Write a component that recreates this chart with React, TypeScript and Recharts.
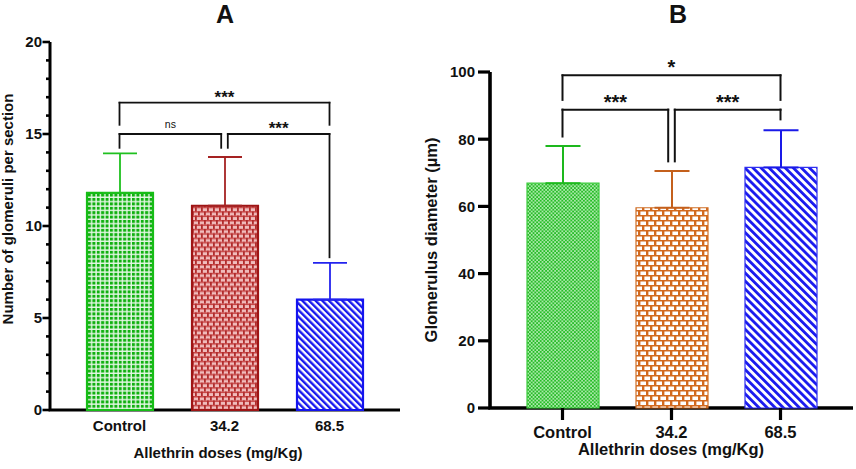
import React from "react";
import { BarChart, Bar, XAxis, YAxis, ErrorBar, ReferenceLine, ReferenceArea } from "recharts";

const doses = ["Control", "34.2", "68.5"];

// panel A: number of glomeruli per section
const glomeruliMean = [11.8, 11.1, 6.0];
const glomeruliSd = [2.15, 2.65, 2.0];
const glomeruliTicks = [0, 1, 2, 3, 4, 5, 6, 7, 8, 9, 10, 11, 12, 13, 14, 15, 16, 17, 18, 19, 20];
const glomeruliLabelled = [0, 5, 10, 15, 20];
const glomeruliBrackets = [
  { from: "Control", to: "68.5", level: 16.7, fromDrop: 15.5, toDrop: 15.5, mark: "***" },
  { from: "Control", to: "34.2", level: 15.0, fromDrop: 14.25, toDrop: 14.25, mark: "ns" },
  { from: "34.2", to: "68.5", level: 15.0, fromDrop: 14.25, toDrop: 8.3, mark: "***" },
];

// panel B: glomerulus diameter
const diameterMean = [66.9, 59.6, 71.6];
const diameterSd = [11.1, 10.9, 11.1];
const diameterTicks = [0, 20, 40, 60, 80, 100];
const diameterBrackets = [
  { from: "Control", to: "68.5", level: 99, fromDrop: 91.7, toDrop: 91.7, mark: "*" },
  { from: "Control", to: "34.2", level: 88.8, fromDrop: 80.8, toDrop: 73.4, mark: "***" },
  { from: "34.2", to: "68.5", level: 88.8, fromDrop: 73.4, toDrop: 85.9, mark: "***" },
];

const FONT = "'Liberation Sans', Arial, sans-serif";
const INK = "#000";
const padA = { left: 17, right: 18 };
const padB = { left: 18, right: 18 };

const toRows = (mean: number[], sd: number[]) =>
  doses.map((dose, i) => ({ dose, [`v${i}`]: mean[i], [`e${i}`]: [0, sd[i]] }));

const rowsA = toRows(glomeruliMean, glomeruliSd);
const rowsB = toRows(diameterMean, diameterSd);

const looksA = [
  { fill: "url(#aGreen)", stroke: "#16bd16", err: "#1fc01f" },
  { fill: "url(#aRed)", stroke: "#9e1414", err: "#a52222" },
  { fill: "url(#aBlue)", stroke: "#1414ee", err: "#2323ee" },
];
const looksB = [
  { fill: "url(#bGreen)", stroke: "#3ccc3c", err: "#1db81d" },
  { fill: "url(#bOrange)", stroke: "#d07028", err: "#c4601c" },
  { fill: "url(#bBlue)", stroke: "#3030f0", err: "#1a1ae8" },
];

const ok = (...v: any[]) => v.every((n) => typeof n === "number" && !isNaN(n));

function Seg(props: any) {
  const { x1, y1, x2, y2, dx1 = 0, dx2 = 0, mark, big, lw } = props;
  if (!ok(x1, y1, x2, y2)) return null;
  const ns = mark === "ns";
  return (
    <g>
      <line x1={x1 + dx1} y1={y1} x2={x2 + dx2} y2={y2} stroke="#111" strokeWidth={lw} strokeLinecap="square" />
      {mark && (
        <text
          x={(x1 + dx1 + x2 + dx2) / 2}
          y={ns ? y1 - 6 : y1 - (big ? 1 : 0)}
          textAnchor="middle"
          fontFamily={FONT}
          fontWeight={ns ? "normal" : "bold"}
          fontSize={ns ? 10.5 : big ? 20 : 17}
          fill="#111"
        >
          {mark}
        </text>
      )}
    </g>
  );
}

function brackets(list: typeof glomeruliBrackets, big: boolean, lw: number) {
  const gap = 3.3;
  return list.flatMap((b, k) => {
    const sFrom = list.some((o, j) => j !== k && o.level === b.level && o.to === b.from) ? gap : 0;
    const sTo = list.some((o, j) => j !== k && o.level === b.level && o.from === b.to) ? -gap : 0;
    return [
      <ReferenceLine
        key={`h${k}`}
        ifOverflow="visible"
        segment={[{ x: b.from, y: b.level }, { x: b.to, y: b.level }]}
        shape={(p: any) => <Seg {...p} dx1={sFrom} dx2={sTo} mark={b.mark} big={big} lw={lw} />}
      />,
      <ReferenceLine
        key={`l${k}`}
        ifOverflow="visible"
        segment={[{ x: b.from, y: b.level }, { x: b.from, y: b.fromDrop }]}
        shape={(p: any) => <Seg {...p} dx1={sFrom} dx2={sFrom} lw={lw} />}
      />,
      <ReferenceLine
        key={`r${k}`}
        ifOverflow="visible"
        segment={[{ x: b.to, y: b.level }, { x: b.to, y: b.toDrop }]}
        shape={(p: any) => <Seg {...p} dx1={sTo} dx2={sTo} lw={lw} />}
      />,
    ];
  });
}

// axis frame (left + bottom lines); the area spans the padded x range, so widen it back by the padding
function frame(top: number, lw: number, pad: { left: number; right: number }) {
  return (
    <ReferenceArea
      y1={0}
      y2={top}
      ifOverflow="visible"
      shape={(p: any) => {
        if (!ok(p.x, p.y, p.width, p.height)) return null;
        const left = p.x - pad.left;
        const right = p.x + p.width + pad.right;
        return (
          <path
            d={`M${left},${p.y} V${p.y + p.height} H${right}`}
            fill="none"
            stroke={INK}
            strokeWidth={lw}
            strokeLinejoin="miter"
          />
        );
      }}
    />
  );
}

// y ticks pointing left from the axis
function yTickMarks(ticks: number[], len: (t: number) => number, lw: number) {
  return ticks.map((t) => (
    <ReferenceLine
      key={`yt${t}`}
      y={t}
      ifOverflow="visible"
      shape={(p: any) => {
        if (!ok(p.x1, p.x2, p.y1)) return null;
        const left = Math.min(p.x1, p.x2);
        return <line x1={left} x2={left - len(t)} y1={p.y1} y2={p.y1} stroke={INK} strokeWidth={lw} />;
      }}
    />
  ));
}

// x ticks pointing down from the axis
function xTickMarks(cats: string[], len: number, lw: number) {
  return cats.map((c) => (
    <ReferenceLine
      key={`xt${c}`}
      x={c}
      ifOverflow="visible"
      shape={(p: any) => {
        if (!ok(p.x1, p.y1, p.y2)) return null;
        const bottom = Math.max(p.y1, p.y2);
        return <line x1={p.x1} x2={p.x1} y1={bottom} y2={bottom + len} stroke={INK} strokeWidth={lw} />;
      }}
    />
  ));
}

function GlomeruliTick(props: any) {
  const { x, y, payload } = props;
  if (!glomeruliLabelled.includes(payload.value)) return <g />;
  return (
    <text x={x - 8} y={y} dy="0.36em" textAnchor="end" fontFamily={FONT} fontWeight="bold" fontSize={15} fill="#111">
      {payload.value}
    </text>
  );
}

function PanelA() {
  return (
    <BarChart width={430} height={469} data={rowsA} margin={{ top: 42, right: 30, bottom: 29, left: 0 }}>
      <defs>
        <pattern id="aGreen" width="4.4" height="4.4" patternUnits="userSpaceOnUse">
          <rect width="4.4" height="4.4" fill="#e4f7e4" />
          <rect width="3" height="3" fill="#10b010" />
        </pattern>
        <pattern id="aRed" width="6" height="8.8" patternUnits="userSpaceOnUse">
          <rect width="6" height="8.8" fill="#f0bcbc" />
          <rect y="0" width="6" height="1.5" fill="#c84444" />
          <rect y="4.4" width="6" height="1.5" fill="#c84444" />
          <rect x="0" y="0" width="1.8" height="4.4" fill="#b02c2c" />
          <rect x="3" y="4.4" width="1.8" height="4.4" fill="#b02c2c" />
        </pattern>
        <pattern id="aBlue" width="4.7" height="4.7" patternUnits="userSpaceOnUse" patternTransform="rotate(-45)">
          <rect width="4.7" height="4.7" fill="#ffffff" />
          <rect width="2.4" height="4.7" fill="#1818ee" />
        </pattern>
      </defs>
      <XAxis
        dataKey="dose"
        interval={0}
        padding={padA}
        height={30}
        axisLine={false}
        tickLine={false}
        tickSize={0}
        tickMargin={10}
        tick={{ fill: "#111", fontSize: 15, fontWeight: "bold", fontFamily: FONT }}
      />
      <YAxis
        width={50}
        domain={[0, 20]}
        ticks={glomeruliTicks}
        interval={0}
        axisLine={false}
        tickLine={false}
        tickSize={0}
        tickMargin={0}
        tick={<GlomeruliTick />}
      />
      {doses.map((_, i) => (
        <Bar
          key={i}
          dataKey={`v${i}`}
          stackId="s"
          barSize={66}
          fill={looksA[i].fill}
          stroke={looksA[i].stroke}
          strokeWidth={2.2}
          isAnimationActive={false}
        >
          <ErrorBar dataKey={`e${i}`} direction="y" width={17} stroke={looksA[i].err} strokeWidth={1.8} isAnimationActive={false} />
        </Bar>
      ))}
      {frame(20, 3, padA)}
      {yTickMarks(glomeruliTicks, (t) => (glomeruliLabelled.includes(t) ? 7.5 : 4), 2.6)}
      {brackets(glomeruliBrackets, false, 1.8)}
    </BarChart>
  );
}

function PanelB() {
  return (
    <BarChart width={426} height={469} data={rowsB} margin={{ top: 72, right: 3, bottom: 31, left: 0 }}>
      <defs>
        <pattern id="bGreen" width="3.6" height="3.6" patternUnits="userSpaceOnUse">
          <rect width="3.6" height="3.6" fill="#a8e8a8" />
          <rect width="1.8" height="1.8" fill="#28bc28" />
          <rect x="1.8" y="1.8" width="1.8" height="1.8" fill="#28bc28" />
        </pattern>
        <pattern id="bOrange" width="8" height="10" patternUnits="userSpaceOnUse">
          <rect width="8" height="10" fill="#ffffff" />
          <rect y="0" width="8" height="1.5" fill="#d2691e" />
          <rect y="5" width="8" height="1.5" fill="#d2691e" />
          <rect x="0" y="0" width="2.4" height="5" fill="#d2691e" />
          <rect x="4" y="5" width="2.4" height="5" fill="#d2691e" />
        </pattern>
        <pattern id="bBlue" width="5.7" height="5.7" patternUnits="userSpaceOnUse" patternTransform="rotate(-45)">
          <rect width="5.7" height="5.7" fill="#ffffff" />
          <rect width="2.8" height="5.7" fill="#1a1aee" />
        </pattern>
      </defs>
      <XAxis
        dataKey="dose"
        interval={0}
        padding={padB}
        height={30}
        axisLine={false}
        tickLine={false}
        tickSize={12}
        tickMargin={6}
        tick={{ fill: "#111", fontSize: 16.5, fontWeight: "bold", fontFamily: FONT }}
      />
      <YAxis
        width={60}
        domain={[0, 100]}
        ticks={diameterTicks}
        interval={0}
        axisLine={false}
        tickLine={false}
        tickSize={12}
        tickMargin={3}
        tick={{ fill: "#111", fontSize: 15, fontWeight: "bold", fontFamily: FONT }}
      />
      {doses.map((_, i) => (
        <Bar
          key={i}
          dataKey={`v${i}`}
          stackId="s"
          barSize={72}
          fill={looksB[i].fill}
          stroke={looksB[i].stroke}
          strokeWidth={1.2}
          isAnimationActive={false}
        >
          <ErrorBar dataKey={`e${i}`} direction="y" width={17.5} stroke={looksB[i].err} strokeWidth={2} isAnimationActive={false} />
        </Bar>
      ))}
      {frame(100, 3.6, padB)}
      {yTickMarks(diameterTicks, () => 12, 3.2)}
      {xTickMarks(doses, 12, 3.2)}
      {brackets(diameterBrackets, true, 2)}
    </BarChart>
  );
}

export default function App() {
  const t = { fontFamily: FONT, fontWeight: "bold" as const, fill: "#111" };
  return (
    <div style={{ position: "absolute", left: 0, top: 0, width: 856, height: 469, background: "#fff", overflow: "hidden" }}>
      <div style={{ position: "absolute", left: 0, top: 0 }}>
        <PanelA />
      </div>
      <div style={{ position: "absolute", left: 430, top: 0 }}>
        <PanelB />
      </div>
      <svg width={856} height={469} style={{ position: "absolute", left: 0, top: 0, pointerEvents: "none" }}>
        <text x={225} y={23} textAnchor="middle" fontSize={25} {...t}>A</text>
        <text x={678} y={23} textAnchor="middle" fontSize={25} {...t}>B</text>
        <text x={12.5} y={209} textAnchor="middle" fontSize={15} transform="rotate(-90, 12.5, 209)" {...t}>
          Number of glomeruli per section
        </text>
        <text x={437} y={240} textAnchor="middle" fontSize={16.5} transform="rotate(-90, 437, 240)" {...t}>
          Glomerulus diameter (µm)
        </text>
        <text x={218} y={458} textAnchor="middle" fontSize={15} {...t}>Allethrin doses (mg/Kg)</text>
        <text x={671} y={455} textAnchor="middle" fontSize={16.5} {...t}>Allethrin doses (mg/Kg)</text>
      </svg>
    </div>
  );
}
